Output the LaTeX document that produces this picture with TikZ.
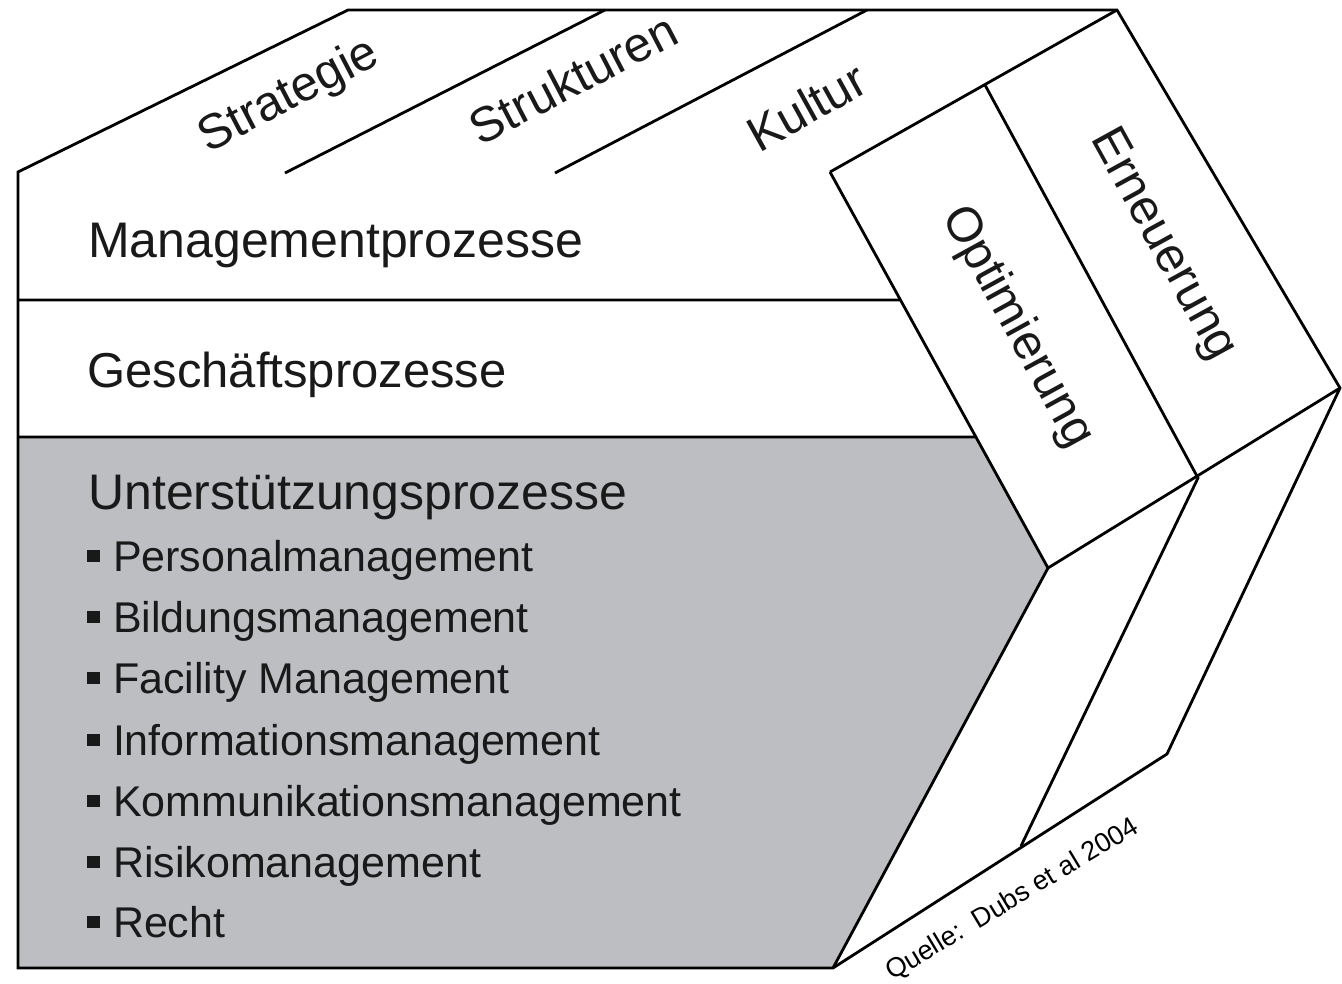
\documentclass[tikz,border=0pt]{standalone}
\usepackage{fontspec}
\setmainfont{Liberation Sans}
\usetikzlibrary{calc}
\definecolor{greyfill}{RGB}{189,190,194}
\definecolor{ink}{RGB}{25,25,25}
\newcommand\bulsq{\rule[0.2em]{0.3em}{0.3em}\hspace{0.3em}}
\begin{document}
\begin{tikzpicture}[x=1pt,y=-1pt,line join=miter,
  edge/.style={draw=black,line width=2.8pt},
  big/.style={font=\fontsize{49}{58}\selectfont,text=ink,inner sep=0pt},
  item/.style={font=\fontsize{43}{50}\selectfont,text=ink,inner sep=0pt,anchor=base west},
  src/.style={font=\fontsize{27}{30}\selectfont,text=black,inner sep=0pt}]
\useasboundingbox (0,0) rectangle (1342,984);
% corners
\coordinate (A) at (18,172);
\coordinate (B) at (348,10);
\coordinate (C) at (1117,10);
\coordinate (D) at (1340,388);
\coordinate (E) at (1167,754);
\coordinate (F) at (833,968);
\coordinate (G) at (18,968);
\coordinate (O1) at (830,172);
\coordinate (O2) at (985,85);
\coordinate (O3) at (1198,478);
\coordinate (O4) at (1048,568);
\coordinate (M) at (1021,846);
\coordinate (L1) at ($(O1)!0.3232!(O4)$);
\coordinate (L2) at ($(O1)!0.6692!(O4)$);
\coordinate (H1) at (18,300);
\coordinate (H2) at (18,437);
\coordinate (S1) at (285,173);
\coordinate (S2) at (605,10);
\coordinate (K1) at (555,173);
\coordinate (K2) at (867,10);
% grey region
\fill[greyfill] (H2) -- (L2) -- (O4) -- (F) -- (G) -- cycle;
% outline
\draw[edge] (G) -- (A) -- (B) -- (C) -- (D) -- (E) -- (F) -- cycle;
\draw[edge] (S1) -- (S2);
\draw[edge] (K1) -- (K2);
\draw[edge] (O1) -- (C);
\draw[edge] (O1) -- (O4) -- (D);
\draw[edge] (O2) -- (O3) -- (M);
\draw[edge] (O4) -- (F);
\draw[edge] (H1) -- (L1);
\draw[edge] (H2) -- (L2);
% top labels
\node[big,anchor=base,rotate=27.5] (strat) at (295,108) {Strategie};
\node[big,anchor=base,rotate=27.5] (struk) at (581,94) {Strukturen};
\node[big,anchor=base,rotate=29] (kult) at (815,122) {Kultur};
% side labels
\node[big,rotate=-61.2] (opt) at (1017,327) {Optimierung};
\node[big,rotate=-61.2] (ern) at (1162,245) {Erneuerung};
% process labels
\node[big,anchor=base west,font=\fontsize{50}{58}\selectfont] (mgmt) at (88,258) {Managementprozesse};
\node[big,anchor=base west] (gesch) at (87,388) {Geschäftsprozesse};
\node[big,anchor=base west,font=\fontsize{50}{58}\selectfont] (unter) at (88,509) {Unterstützungsprozesse};
\node[item] (i1) at (87,571) {\bulsq Personalmanagement};
\node[item] (i2) at (87,632) {\bulsq Bildungsmanagement};
\node[item] (i3) at (87,693) {\bulsq Facility Management};
\node[item] (i4) at (87,755) {\bulsq Informationsmanagement};
\node[item] (i5) at (87,816) {\bulsq Kommunikationsmanagement};
\node[item] (i6) at (87,877) {\bulsq Risikomanagement};
\node[item] (i7) at (87,937) {\bulsq Recht};
% source
\node[src,anchor=base west,rotate=31] (quelle) at (892,981) {Quelle:\ \ Dubs et al 2004};
\end{tikzpicture}
\end{document}
